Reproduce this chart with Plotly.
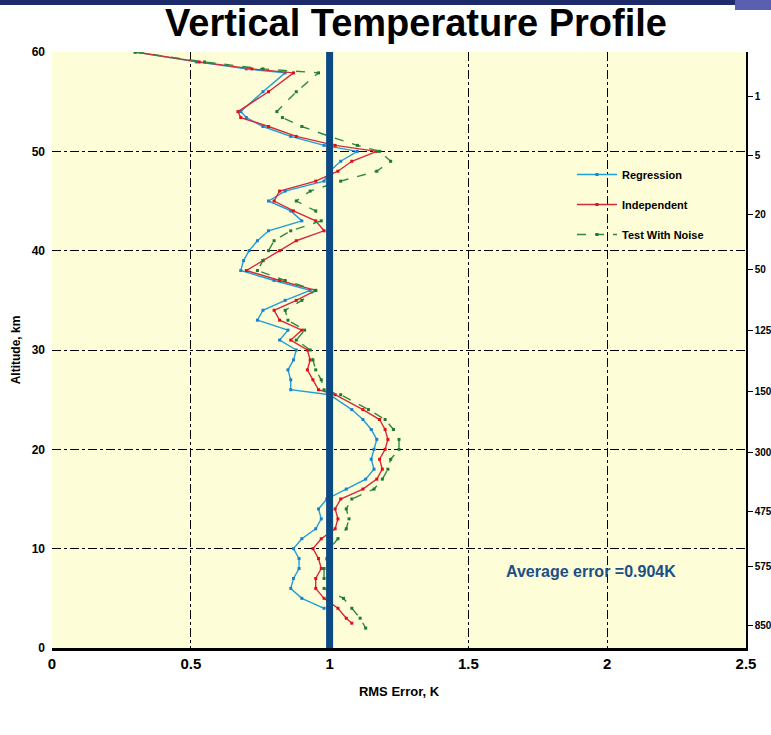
import plotly.graph_objects as go

# ---- data ----
altitude_km = [60, 59, 58.3, 57.9, 56, 54, 53.4, 52.5, 51.5, 50.6, 50, 49, 48, 47, 46, 45, 44, 43, 42, 41,
               40, 39, 38, 37, 36, 35, 34, 33, 32, 31, 30, 29, 28, 27, 26, 25.5, 24, 23, 22, 21,
               20, 19, 18, 17, 16, 15, 14, 13, 12, 11, 10, 9, 8, 7, 6, 5, 4]

regression = [0.30, 0.52, 0.70, 0.84, 0.76, 0.68, 0.70, 0.76, 0.86, 0.98, 1.10, 1.04, 1.00, 0.98, 0.84, 0.78, 0.86, 0.90, 0.78, 0.74,
              0.71, 0.69, 0.68, 0.80, 0.93, 0.84, 0.76, 0.74, 0.85, 0.82, 0.88, 0.87, 0.85, 0.86, 0.86, 1.00, 1.08, 1.12, 1.15, 1.17,
              1.16, 1.15, 1.16, 1.13, 1.06, 0.99, 0.96, 0.97, 0.95, 0.90, 0.87, 0.89, 0.89, 0.87, 0.86, 0.90, 0.98]

altitude_ind = altitude_km + [3, 2.5]
independent = [0.30, 0.53, 0.72, 0.87, 0.78, 0.67, 0.68, 0.78, 0.88, 1.02, 1.17, 1.08, 1.03, 0.95, 0.82, 0.80, 0.87, 0.95, 0.98, 0.88,
               0.82, 0.76, 0.70, 0.82, 0.95, 0.88, 0.80, 0.82, 0.90, 0.86, 0.92, 0.93, 0.92, 0.94, 0.96, 1.02, 1.12, 1.18, 1.20, 1.21,
               1.20, 1.18, 1.19, 1.17, 1.12, 1.04, 1.02, 1.03, 1.02, 0.97, 0.94, 0.96, 0.97, 0.95, 0.95, 0.98, 1.03, 1.06, 1.08]

altitude_noise = altitude_km + [3, 2]
test_noise = [0.30, 0.55, 0.76, 0.96, 0.88, 0.81, 0.83, 0.90, 1.00, 1.10, 1.18, 1.22, 1.17, 1.04, 0.93, 0.88, 0.95, 0.97, 0.86, 0.80,
              0.78, 0.76, 0.74, 0.84, 0.95, 0.90, 0.84, 0.85, 0.91, 0.88, 0.93, 0.94, 0.95, 0.97, 0.98, 1.04, 1.14, 1.20, 1.23, 1.25,
              1.25, 1.22, 1.21, 1.19, 1.16, 1.08, 1.06, 1.07, 1.06, 1.03, 1.00, 0.99, 0.98, 0.98, 0.98, 1.05, 1.08, 1.11, 1.13]

x_ticks = [0, 0.5, 1, 1.5, 2, 2.5]
x_tick_text = ["0", "0.5", "1", "1.5", "2", "2.5"]
y_ticks = [0, 10, 20, 30, 40, 50, 60]
right_tick_alt = [55.5, 49.6, 43.6, 38.1, 32.0, 25.8, 19.7, 13.7, 8.2, 2.3]
right_tick_text = ["1", "5", "20", "50", "125", "150", "300", "475", "575", "850"]
reference_error = 1.0
average_error_text = "Average error =0.904K"

W, H = 771, 735
ML, MR, MT, MB = 52, 25, 52, 87
PW, PH = W - ML - MR, H - MT - MB

bold = "Liberation Sans, Arial, sans-serif"

fig = go.Figure()

fig.add_trace(go.Scatter(x=regression, y=altitude_km, name="Regression", mode="lines+markers",
                         line=dict(color="#1e9fd6", width=1.4), marker=dict(symbol="square", size=3, color="#1e7fd0"),
                         legendgroup="a"))
fig.add_trace(go.Scatter(x=independent, y=altitude_ind, name="Independent", mode="lines+markers",
                         line=dict(color="#d42a3c", width=1.4), marker=dict(symbol="square", size=3, color="#e01010"),
                         legendgroup="b"))
fig.add_trace(go.Scatter(x=test_noise, y=altitude_noise, name="Test With Noise", mode="lines+markers",
                         line=dict(color="#2e8b3e", width=1.4, dash="dash"), marker=dict(symbol="square", size=3, color="#1f7a30"),
                         legendgroup="c"))
# dummy trace to activate right axis
fig.add_trace(go.Scatter(x=[None], y=[None], yaxis="y2", showlegend=False, hoverinfo="skip"))

# thick reference line at 1 K
fig.add_shape(type="line", xref="x", yref="y", x0=reference_error, x1=reference_error, y0=0, y1=60,
              line=dict(color="#0b4a84", width=7), layer="above")

# top banner strip
fig.add_shape(type="rect", xref="paper", yref="paper",
              x0=-ML / PW, x1=(735 - ML) / PW, y0=1 + (MT - 5) / PH, y1=1 + MT / PH,
              fillcolor="#1d2b6b", line=dict(width=0), layer="below")
fig.add_shape(type="rect", xref="paper", yref="paper",
              x0=(735 - ML) / PW, x1=(W - ML) / PW, y0=1 + (MT - 10) / PH, y1=1 + MT / PH,
              fillcolor="#5a5fb0", line=dict(width=0), layer="below")

fig.add_annotation(x=1.94, y=7.7, xref="x", yref="y", text="<b>" + average_error_text + "</b>",
                   showarrow=False, font=dict(family=bold, size=16, color="#1a4f8a"))

fig.update_layout(
    width=W, height=H,
    margin=dict(l=ML, r=MR, t=MT, b=MB, autoexpand=False),
    paper_bgcolor="white",
    plot_bgcolor="#fdfdd8",
    title=dict(text="<b>Vertical Temperature Profile</b>", x=416 / W, xanchor="center", y=1 - 23 / H, yanchor="middle",
               font=dict(family=bold, size=38, color="black")),
    showlegend=True,
    legend=dict(x=(572 - ML) / PW, y=1 - (160 - MT) / PH, xanchor="left", yanchor="top",
                bgcolor="rgba(0,0,0,0)", font=dict(family=bold, size=11, color="black", weight="bold"),
                traceorder="grouped", tracegroupgap=11, itemwidth=40),
    xaxis=dict(range=[0, 2.5], tickvals=x_ticks, ticktext=["<b>%s</b>" % t for t in x_tick_text],
               tickfont=dict(family=bold, size=15, color="black"),
               showgrid=True, gridcolor="black", griddash="dashdot", gridwidth=1.2,
               showline=True, linecolor="black", linewidth=3, zeroline=False, ticks="",
               title=dict(text="<b>RMS Error, K</b>", font=dict(family=bold, size=13, color="black"), standoff=16),
               mirror=False),
    yaxis=dict(range=[0, 60], tickvals=y_ticks, ticktext=["<b>%d</b>" % v for v in y_ticks],
               tickfont=dict(family=bold, size=12, color="black"),
               showgrid=True, gridcolor="black", griddash="dashdot", gridwidth=1.2,
               showline=False, zeroline=False, ticks="", ticklabelstandoff=6,
               title=dict(text="<b>Altitude, km</b>", font=dict(family=bold, size=12, color="black"), standoff=8)),
    yaxis2=dict(range=[0, 60], overlaying="y", side="right", tickvals=right_tick_alt,
                ticktext=["<b>%s</b>" % t for t in right_tick_text],
                tickfont=dict(family=bold, size=10, color="black"),
                showgrid=False, zeroline=False, showline=True, linecolor="black", linewidth=1.5,
                ticks="outside", ticklen=5, tickcolor="black", automargin=False),
)

fig.write_html("out.html")
